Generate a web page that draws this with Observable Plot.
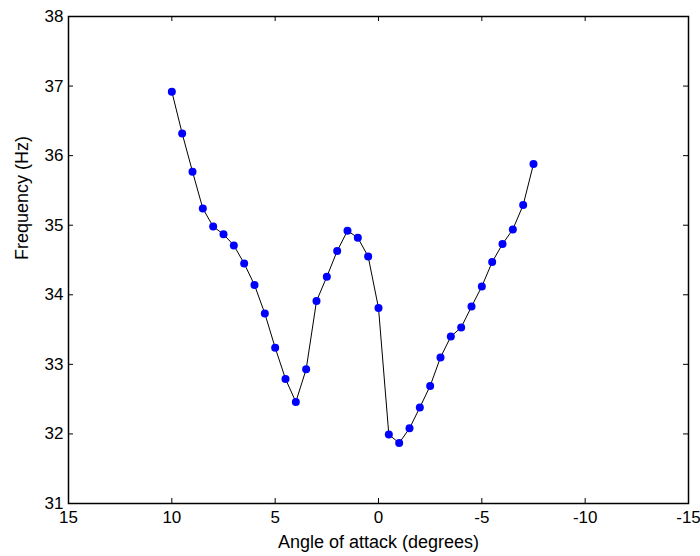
<!DOCTYPE html>
<html>
<head>
<meta charset="utf-8">
<script src="https://cdn.jsdelivr.net/npm/d3@7"></script>
<script src="https://cdn.jsdelivr.net/npm/@observablehq/plot@0.6"></script>
<style>
  html, body { margin: 0; padding: 0; background: #fff; }
  #chart { width: 700px; height: 556px; }
</style>
</head>
<body>
<div id="chart"></div>
<script>
const angles = [10, 9.5, 9, 8.5, 8, 7.5, 7, 6.5, 6, 5.5, 5, 4.5, 4, 3.5, 3, 2.5, 2, 1.5, 1, 0.5, 0,
  -0.5, -1, -1.5, -2, -2.5, -3, -3.5, -4, -4.5, -5, -5.5, -6, -6.5, -7, -7.5];
const frequencies = [36.92, 36.32, 35.77, 35.24, 34.98, 34.87, 34.71, 34.45, 34.14, 33.73, 33.24, 32.79, 32.46, 32.93, 33.91,
  34.26, 34.63, 34.92, 34.82, 34.55, 33.81,
  31.99, 31.87, 32.08, 32.38, 32.69, 33.10, 33.40, 33.53, 33.83, 34.12, 34.47, 34.73, 34.94, 35.29, 35.88];
const xTicks = [15, 10, 5, 0, -5, -10, -15];
const yTicks = [31, 32, 33, 34, 35, 36, 37, 38];
const xLabel = "Angle of attack (degrees)";
const yLabel = "Frequency (Hz)";

const data = angles.map((a, i) => ({angle: a, freq: frequencies[i]}));

const W = 700, H = 556, mL = 68, mR = 12, mT = 16, mB = 53, tick = 5;
const plotW = W - mL - mR, plotH = H - mT - mB;

const chart = Plot.plot({
  width: W,
  height: H,
  marginLeft: mL,
  marginRight: mR,
  marginTop: mT,
  marginBottom: mB,
  style: {fontFamily: "'Liberation Sans', Arial, sans-serif", fontSize: "17px", color: "#000", background: "#fff"},
  x: {domain: [15, -15]},
  y: {domain: [31, 38]},
  marks: [
    Plot.axisX({anchor: "bottom", ticks: xTicks, tickSize: 0, tickPadding: 7, fontSize: 17, label: null, tickFormat: d => String(d)}),
    Plot.axisY({anchor: "left", ticks: yTicks, tickSize: 0, tickPadding: 5, fontSize: 17, label: null, tickFormat: d => String(d)}),
    Plot.text([xLabel], {frameAnchor: "bottom", dy: 44, fontSize: 18, text: d => d}),
    Plot.text([yLabel], {frameAnchor: "left", dx: -46, rotate: -90, fontSize: 18, text: d => d}),
    // inward ticks on all four sides
    Plot.tickX(xTicks, {x: d => d, insetTop: plotH - tick, stroke: "#000"}),
    Plot.tickX(xTicks, {x: d => d, insetBottom: plotH - tick, stroke: "#000"}),
    Plot.tickY(yTicks, {y: d => d, insetRight: plotW - tick, stroke: "#000"}),
    Plot.tickY(yTicks, {y: d => d, insetLeft: plotW - tick, stroke: "#000"}),
    Plot.frame({stroke: "#000", strokeWidth: 1.5}),
    Plot.line(data, {x: "angle", y: "freq", stroke: "#000", strokeWidth: 1}),
    Plot.dot(data, {x: "angle", y: "freq", r: 4, fill: "#0000ff", stroke: "none"})
  ]
});
document.getElementById("chart").appendChild(chart);
</script>
</body>
</html>
